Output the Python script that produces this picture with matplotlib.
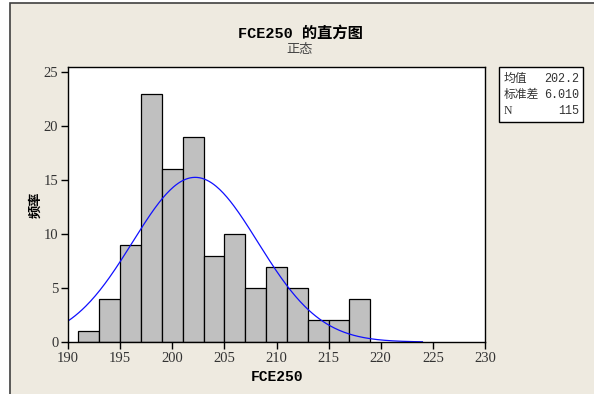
import numpy as np
import matplotlib.pyplot as plt
from matplotlib.patches import Rectangle

# 直方图数据 (每个箱宽 2)
bin_edges = [191, 193, 195, 197, 199, 201, 203, 205, 207, 209, 211, 213, 215, 217, 219]
counts = [1, 4, 9, 23, 16, 19, 8, 10, 5, 7, 5, 2, 2, 4]
mean_val = 202.2
std_val = 6.010
n_val = 115
x_ticks = [190, 195, 200, 205, 210, 215, 220, 225, 230]
y_ticks = [0, 5, 10, 15, 20, 25]

fam = ['Liberation Serif', 'Noto Sans CJK SC']
plt.rcParams['font.family'] = fam
bg = '#eeeae0'

fig = plt.figure(figsize=(5.94, 3.94), dpi=100)
fig.patch.set_facecolor('white')
fig.patches.append(Rectangle((10 / 594, -0.01), 1, 1.01 - 3 / 394, transform=fig.transFigure,
                             facecolor=bg, edgecolor='#404040', linewidth=1.2, zorder=-1))

ax = fig.add_axes([68 / 594, 1 - 342 / 394, (485 - 68) / 594, (342 - 67) / 394])
ax.set_facecolor('white')

widths = np.diff(bin_edges)
ax.bar(bin_edges[:-1], counts, width=widths, align='edge',
       color='#c0c0c0', edgecolor='black', linewidth=0.9)

# 正态拟合曲线
xs = np.linspace(190, 224, 300)
bw = widths[0]
ys = n_val * bw / (std_val * np.sqrt(2 * np.pi)) * np.exp(-0.5 * ((xs - mean_val) / std_val) ** 2)
ax.plot(xs, ys, color='#1010ff', linewidth=0.9)

ax.set_xlim(190, 230)
ax.set_ylim(0, 25.5)
ax.set_xticks(x_ticks)
ax.set_yticks(y_ticks)
ax.tick_params(direction='out', length=5, width=1, labelsize=10.5, labelcolor='#333333', pad=2)
for s in ax.spines.values():
    s.set_linewidth(1)

ax.set_xlabel('FCE250', fontsize=10.5, fontweight='bold', family=['Liberation Mono'], labelpad=4)
ax.set_ylabel('频率', fontsize=9.5, fontweight='bold', family=['Noto Sans CJK SC'], labelpad=1)

fig.text(0.505, 1 - 33 / 394, 'FCE250 的直方图', ha='center', va='center', fontsize=11,
         fontweight='bold', family=['Liberation Mono', 'Noto Sans CJK SC'])
fig.text(0.505, 1 - 50 / 394, '正态', ha='center', va='center', fontsize=9.5,
         color='#444444', family=['Noto Sans CJK SC'])

# 图例框
lx0, lx1, ly0, ly1 = 499 / 594, 583 / 594, 1 - 122 / 394, 1 - 67 / 394
fig.patches.append(Rectangle((lx0, ly0), lx1 - lx0, ly1 - ly0, transform=fig.transFigure,
                             facecolor='white', edgecolor='black', linewidth=1))
rows = [('均值', f'{mean_val:.1f}'), ('标准差', f'{std_val:.3f}'), ('N', f'{n_val}')]
for i, (k, v) in enumerate(rows):
    yy = 1 - (79 + i * 16) / 394
    fig.text(504 / 594, yy, k, ha='left', va='center', fontsize=8.5, color='#333333',
             family=['Liberation Serif', 'Noto Sans CJK SC'])
    fig.text(579 / 594, yy, v, ha='right', va='center', fontsize=8.5, color='#333333',
             family=['Liberation Mono'])

fig.savefig('out.png', dpi=100, facecolor=fig.get_facecolor())
